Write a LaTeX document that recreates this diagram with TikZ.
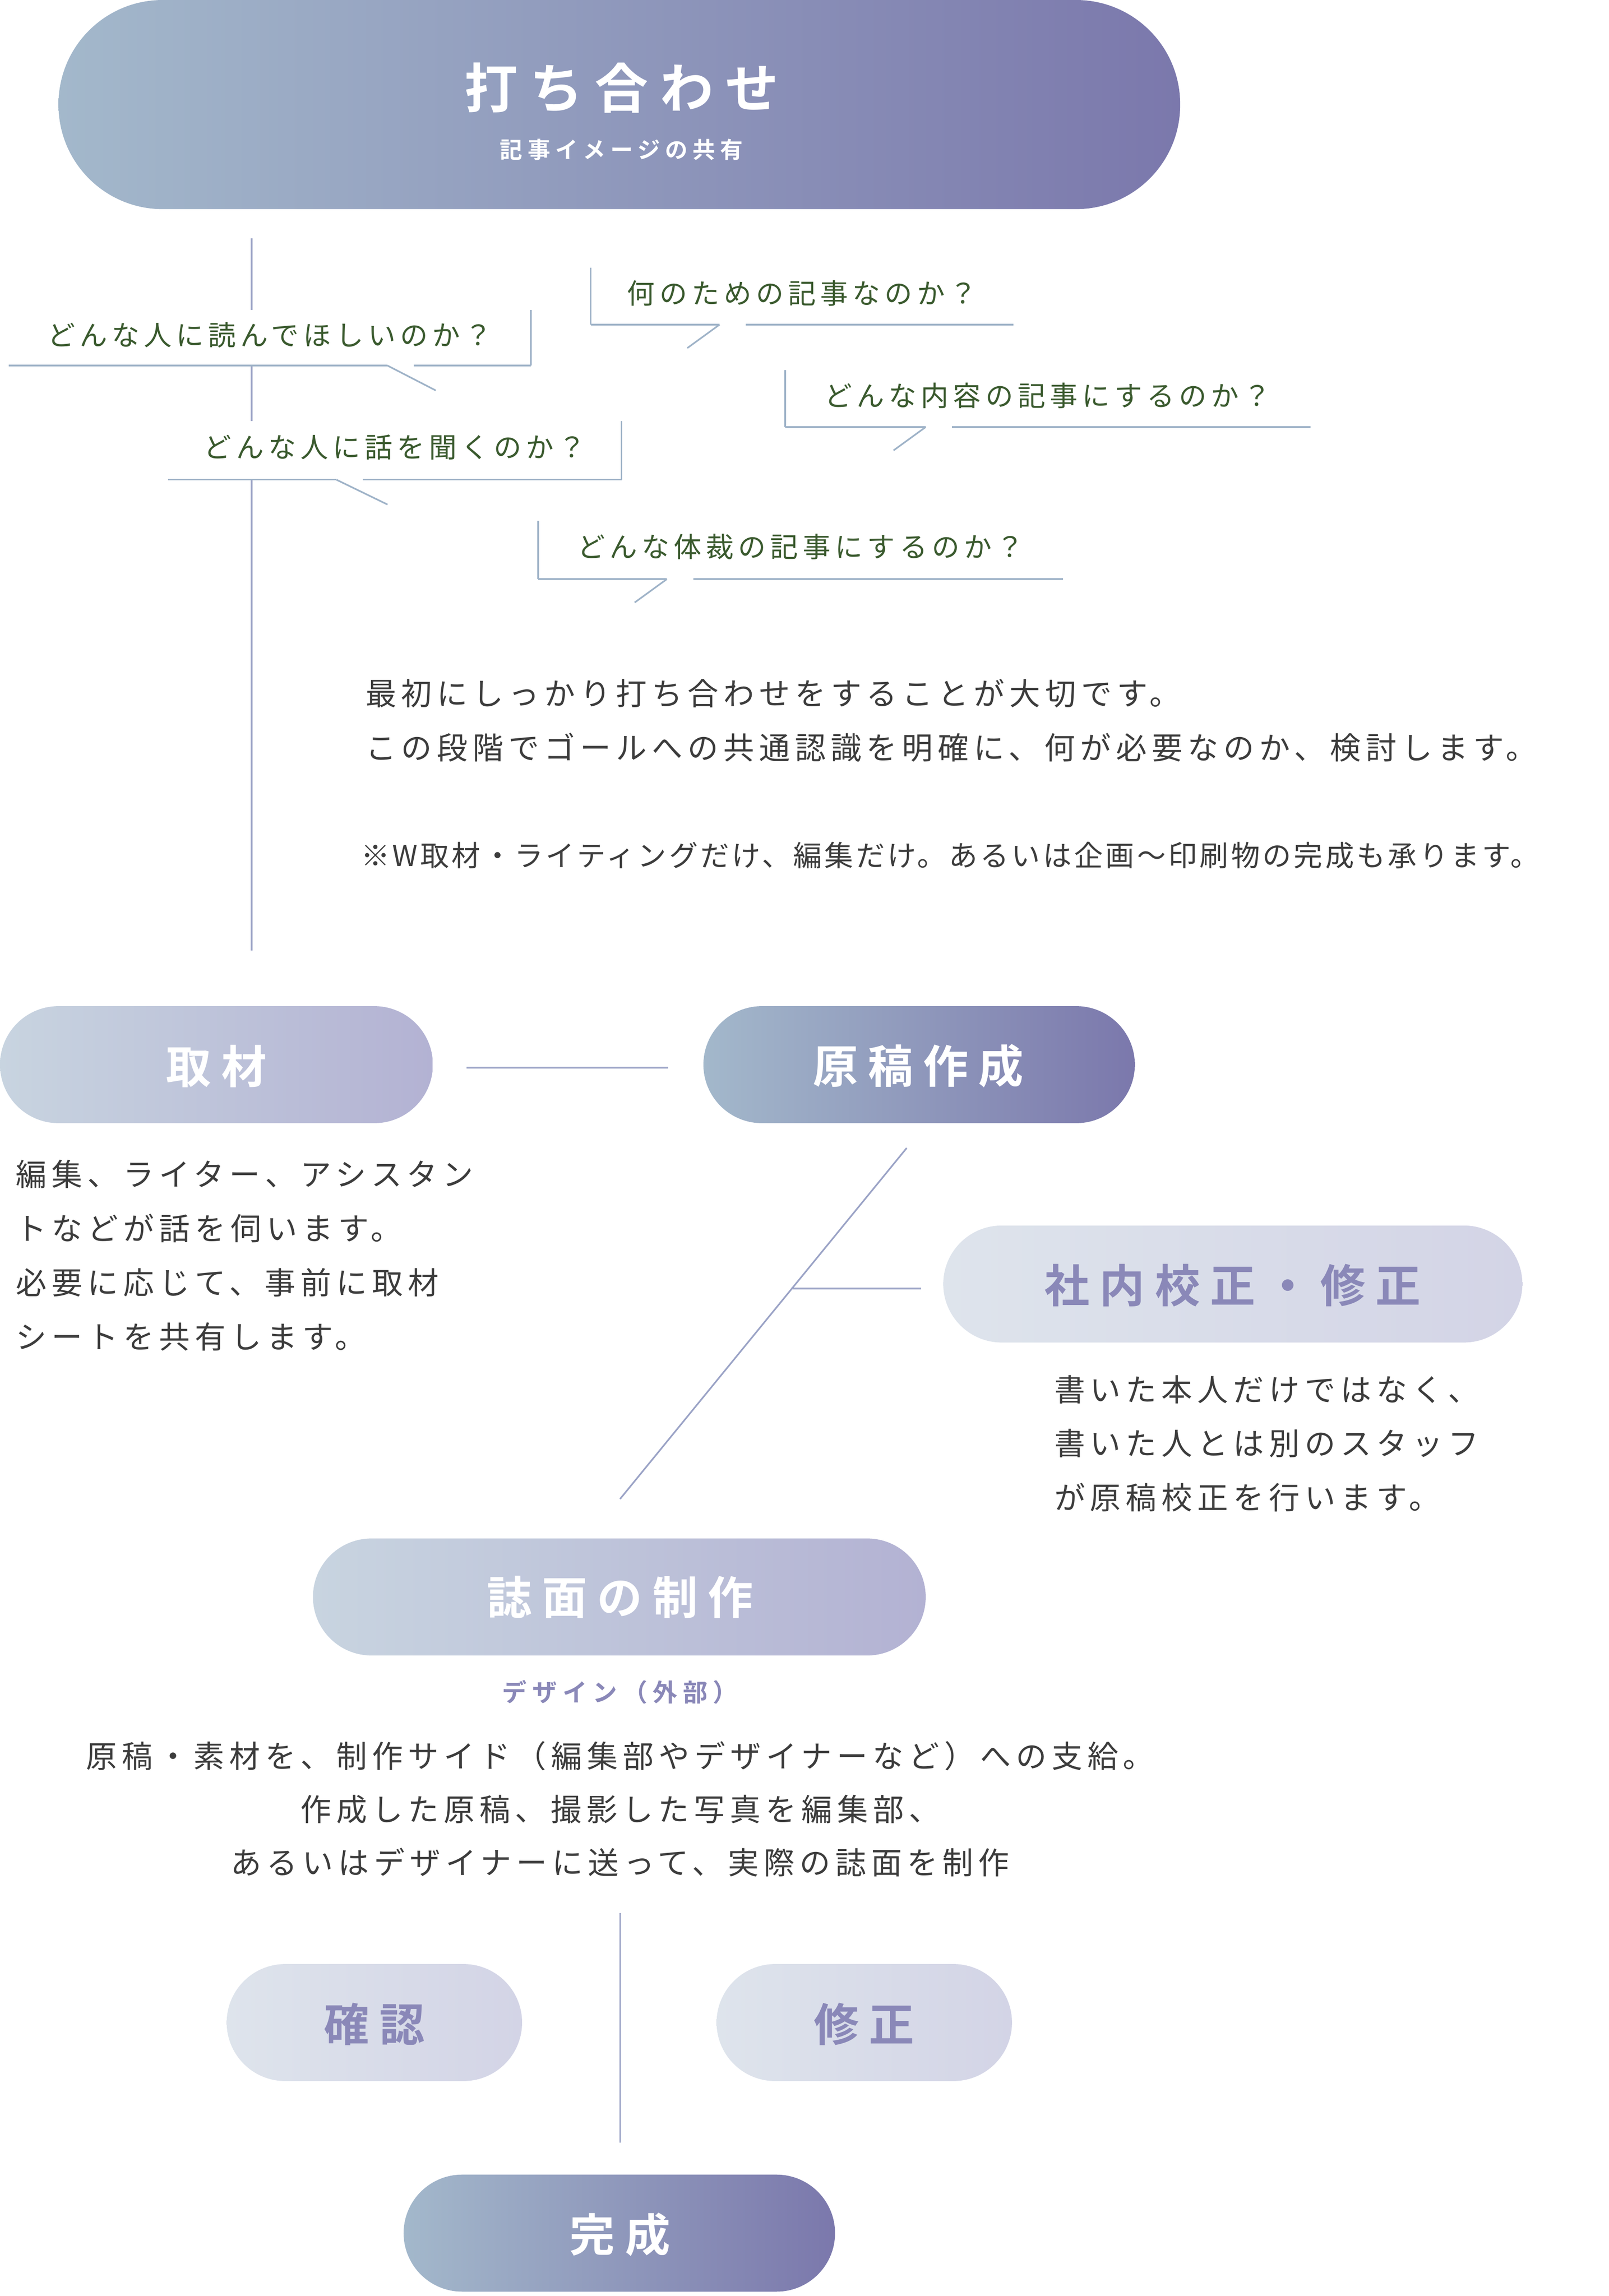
\documentclass[tikz,border=0pt]{standalone}
\usepackage{fontspec}
\usepackage{xcolor}
\usetikzlibrary{positioning}
\newfontfamily\jp[LetterSpace=16]{Noto Sans CJK JP}
\newfontfamily\jpn[LetterSpace=9]{Noto Sans CJK JP}
\newfontfamily\jpb[LetterSpace=22]{Noto Sans CJK JP Bold}
\definecolor{lineBlue}{HTML}{9FB3C8}
\definecolor{linePurple}{HTML}{9BA3C6}
\definecolor{qGreen}{HTML}{3A5A2E}
\definecolor{bodyGray}{HTML}{3C3C3C}
\definecolor{softPurple}{HTML}{8A88B8}
\definecolor{deepA}{HTML}{A3B8CB}
\definecolor{deepB}{HTML}{7B78AC}
\definecolor{midA}{HTML}{C8D4E0}
\definecolor{midB}{HTML}{B3B2D3}
\definecolor{paleA}{HTML}{DEE4EC}
\definecolor{paleB}{HTML}{D3D4E6}
\begin{document}
\begin{tikzpicture}[x=0.025cm, y=-0.025cm]
        \tikzstyle{mainLine} = [draw=linePurple, line width=0.8pt]
        \tikzstyle{bubbleLine} = [draw=lineBlue, line width=0.8pt]
        \tikzstyle{question} = [font=\jp\fontsize{13.5}{16}\selectfont, text=qGreen, anchor=center]
        \tikzstyle{bodyText} = [font=\jp\fontsize{15}{26}\selectfont, text=bodyGray]
        \tikzstyle{pillTitle} = [font=\jpb\fontsize{22}{26}\selectfont, text=white]
        \useasboundingbox (0,0) rectangle (1100,1570);
        % connectors first, bubbles cover them
        \coordinate (topLineA) at (172,163);
        \coordinate (topLineB) at (172,650);
        \path[mainLine] (topLineA) -- (topLineB);
        % top pill
        \shade[left color=deepA, right color=deepB, rounded corners=1.78cm] (40,0) rectangle (807,143);
        \node[font=\jpb\fontsize{26}{30}\selectfont, text=white] (meet) at (425,60) {打ち合わせ};
        \node[font=\jpb\fontsize{11}{14}\selectfont, text=white, below=0.2cm of meet] (meetSub) {記事イメージの共有};
        % question bubbles: left, top, right, bottom, gap, tip, side
        \foreach \l/\t/\r/\b/\g/\tx/\ty/\side/\q in {
            6/212/363/250/265/298/267/r/どんな人に読んでほしいのか？,
            404/183/693/222/492/470/238/l/何のための記事なのか？,
            537/253/896/292/633/611/308/l/どんな内容の記事にするのか？,
            115/288/425/328/230/265/345/r/どんな人に話を聞くのか？,
            368/356/727/396/456/434/412/l/どんな体裁の記事にするのか？} {
            \fill[white] (\l,\t) rectangle (\r,\b);
            \path[bubbleLine] (\l,\b) -- (\r,\b);
            \if\side r \path[bubbleLine] (\r,\t) -- (\r,\b); \else \path[bubbleLine] (\l,\t) -- (\l,\b); \fi
            \fill[white] (\g,\b-1) rectangle (\g+18,\b+1);
            \path[bubbleLine] (\g,\b) -- (\tx,\ty);
            \node[question] at ({(\l+\r)/2},{(\t+\b)/2-2}) {\q};
        }
        \node[bodyText, anchor=west] (introA) at (245,474) {最初にしっかり打ち合わせをすることが大切です。};
        \node[bodyText, anchor=west] (introB) at (245,511) {この段階でゴールへの共通認識を明確に、何が必要なのか、検討します。};
        \node[bodyText, anchor=west, font=\jpn\fontsize{14}{26}\selectfont] (introC) at (242,585) {※W取材・ライティングだけ、編集だけ。あるいは企画〜印刷物の完成も承ります。};
        % second row
        \shade[left color=midA, right color=midB, rounded corners=1cm] (0,688) rectangle (296,768);
        \node[pillTitle] (cover) at (148,729) {取材};
        \shade[left color=deepA, right color=deepB, rounded corners=1cm] (481,688) rectangle (776,768);
        \node[pillTitle] (draft) at (628,729) {原稿作成};
        \coordinate (coverR) at (319,730);
        \coordinate (draftL) at (457,730);
        \path[mainLine] (coverR) -- (draftL);
        \foreach \y/\s in {803/編集、ライター、アシスタン, 840/トなどが話を伺います。, 877/必要に応じて、事前に取材, 914/シートを共有します。}
            \node[bodyText, anchor=west] at (6,\y) {\s};
        % proofreading
        \coordinate (diagTop) at (620,785);
        \coordinate (diagBot) at (424,1025);
        \coordinate (diagMid) at (541,881);
        \coordinate (proofL) at (630,881);
        \path[mainLine] (diagTop) -- (diagBot);
        \path[mainLine] (diagMid) -- (proofL);
        \shade[left color=paleA, right color=paleB, rounded corners=1cm] (645,838) rectangle (1041,918);
        \node[pillTitle, text=softPurple] (proof) at (843,879) {社内校正・修正};
        \foreach \y/\s in {950/書いた本人だけではなく、, 987/書いた人とは別のスタッフ, 1024/が原稿校正を行います。}
            \node[bodyText, anchor=west] at (716,\y) {\s};
        % layout
        \shade[left color=midA, right color=midB, rounded corners=1cm] (214,1052) rectangle (633,1132);
        \node[pillTitle] (layout) at (424,1092) {誌面の制作};
        \node[font=\jpb\fontsize{12}{14}\selectfont, text=softPurple] (design) at (424,1157) {デザイン（外部）};
        \node[bodyText, align=center] (layoutText) at (424,1237) {原稿・素材を、制作サイド（編集部やデザイナーなど）への支給。\\作成した原稿、撮影した写真を編集部、\\あるいはデザイナーに送って、実際の誌面を制作};
        % check and fix
        \coordinate (finLineA) at (424,1308);
        \coordinate (finLineB) at (424,1465);
        \path[mainLine] (finLineA) -- (finLineB);
        \shade[left color=paleA, right color=paleB, rounded corners=1cm] (155,1343) rectangle (357,1423);
        \node[pillTitle, text=softPurple] (check) at (256,1384) {確認};
        \shade[left color=paleA, right color=paleB, rounded corners=1cm] (490,1343) rectangle (692,1423);
        \node[pillTitle, text=softPurple] (fix) at (591,1384) {修正};
        \shade[left color=deepA, right color=deepB, rounded corners=1cm] (276,1487) rectangle (571,1567);
        \node[pillTitle] (done) at (424,1528) {完成};
\end{tikzpicture}
\end{document}
